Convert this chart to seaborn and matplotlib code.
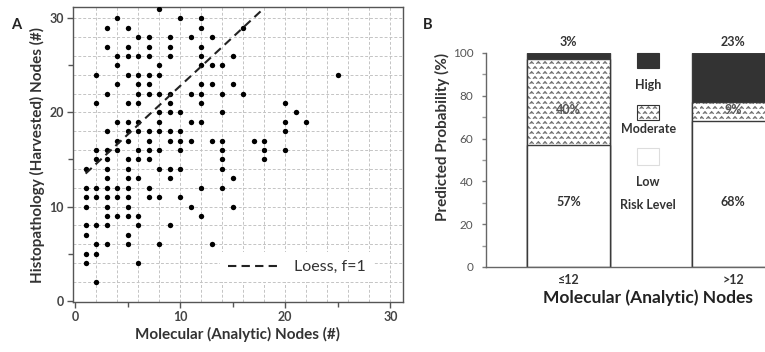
import warnings
import numpy as np
import pandas as pd
import matplotlib
matplotlib.use("Agg")
import matplotlib.pyplot as plt
import matplotlib.hatch as mhatch
from matplotlib.path import Path
from matplotlib.patches import Rectangle
import seaborn as sns

warnings.filterwarnings("ignore")

# panel A: one point per patient, analytic (x) vs harvested (y) node counts
analytic_nodes = [
    8,
    4, 10, 12,
    3, 5, 12, 16,
    6, 7, 9, 11, 13,
    3, 5, 7, 9, 12,
    4, 5, 6, 7, 9, 12, 15,
    4, 8, 12, 13, 14,
    2, 5, 6, 7, 8, 25,
    4, 6, 7, 12, 13, 15,
    3, 6, 7, 8, 9, 11, 12, 14, 16,
    2, 5, 6, 9, 12, 20,
    8, 9, 10, 14, 21,
    4, 5, 6, 8, 11, 12, 20, 22,
    3, 5, 6, 7, 8, 9, 10, 20,
    4, 5, 7, 9, 10, 11, 13, 14, 17, 18,
    2, 3, 4, 6, 7, 8, 10, 14, 18, 20,
    2, 3, 5, 6, 7, 14, 18,
    1, 3, 5, 8, 9, 10, 14,
    3, 5, 6, 9, 15,
    1, 2, 3, 4, 5, 7, 12, 14,
    1, 2, 3, 4, 5, 7, 8, 10,
    1, 3, 5, 11, 15,
    3, 4, 5, 6, 12,
    1, 2, 3, 6, 9,
    1, 5,
    2, 3, 5, 8, 13,
    1, 2,
    1, 6,
    2,
]
harvested_nodes = (
    [31] * 1 + [30] * 3 + [29] * 4 + [28] * 5 + [27] * 5 + [26] * 7
    + [25] * 5 + [24] * 6 + [23] * 6 + [22] * 9 + [21] * 6 + [20] * 5
    + [19] * 8 + [18] * 8 + [17] * 10 + [16] * 10 + [15] * 7 + [14] * 7
    + [13] * 5 + [12] * 8 + [11] * 8 + [10] * 5 + [9] * 5 + [8] * 5
    + [7] * 2 + [6] * 5 + [5] * 2 + [4] * 2 + [2] * 1
)

# loess fit (f=1)
loess_x = [1, 18]
loess_y = [13.5, 31.1]

# panel B: predicted probability (%) of each risk level
node_groups = ["\u226412", ">12"]
low_risk = [57, 68]
moderate_risk = [40, 9]
high_risk = [3, 23]


# small caret ("^") hatch like the original figure
class CaretHatch(mhatch.HatchPatternBase):
    def __init__(self, hatch, density):
        n = hatch.count("^")
        self.rows = 20 * n
        self.cols = 15 * n
        self.num_vertices = self.rows * self.cols * 3

    def set_vertices_and_codes(self, vertices, codes):
        w = 0.27 / self.cols
        h = 0.38 / self.rows
        k = 0
        for i in range(self.rows):
            cy = (i + 0.5) / self.rows
            for j in range(self.cols):
                cx = (j + 0.25 + 0.5 * (i % 2)) / self.cols
                vertices[k] = (cx - w, cy - h / 2)
                vertices[k + 1] = (cx, cy + h / 2)
                vertices[k + 2] = (cx + w, cy - h / 2)
                codes[k] = Path.MOVETO
                codes[k + 1] = Path.LINETO
                codes[k + 2] = Path.LINETO
                k += 3


mhatch._hatch_types.append(CaretHatch)

sns.set_style("ticks")
plt.rcParams["font.family"] = ["Lato", "DejaVu Sans"]
plt.rcParams["hatch.linewidth"] = 0.7

fig = plt.figure(figsize=(7.65, 3.52), dpi=100)
axA = fig.add_axes([0.0954, 0.142, 0.4314, 0.838])
axB = fig.add_axes([0.6353, 0.2415, 0.3647, 0.608])

# ---- panel A
for v in np.arange(2, 31, 2):
    axA.axvline(v, color="#c4c4c4", lw=0.7, ls=(0, (3, 2)), zorder=0)
    axA.axhline(v, color="#c4c4c4", lw=0.7, ls=(0, (3, 2)), zorder=0)

sns.scatterplot(x=analytic_nodes, y=harvested_nodes, ax=axA, color="black",
                s=15, linewidth=0, zorder=3)
sns.lineplot(x=loess_x, y=loess_y, ax=axA, color="#222222", lw=1.5,
             linestyle=(0, (4, 2.5)), label="Loess, f=1", zorder=4)

axA.set_xlim(-0.2, 31.2)
axA.set_ylim(-0.15, 31.2)
axA.set_xticks([0, 10, 20, 30])
axA.set_yticks([0, 10, 20, 30])
axA.set_xticks([5, 15, 25], minor=True)
axA.set_yticks([5, 15, 25], minor=True)
axA.tick_params(which="major", length=4.5, width=1, color="#555555",
                labelsize=9, labelcolor="#444444", pad=2)
axA.tick_params(which="minor", length=3.5, width=1, color="#555555")
for lbl in axA.get_xticklabels() + axA.get_yticklabels():
    lbl.set_fontweight("bold")
for s in axA.spines.values():
    s.set_color("#555555")
    s.set_linewidth(1)
axA.set_xlabel("Molecular (Analytic) Nodes (#)", fontsize=11,
               fontweight="bold", color="#333333", labelpad=3)
axA.set_ylabel("Histopathology (Harvested) Nodes (#)", fontsize=11,
               fontweight="bold", color="#333333", labelpad=3)
axA.legend(loc="lower right", bbox_to_anchor=(0.935, 0.04), frameon=True,
           facecolor="white", edgecolor="none", framealpha=1, fancybox=False,
           handlelength=3.3, fontsize=11.5, borderpad=0.5, handletextpad=0.8,
           labelcolor="#333333")

# ---- panel B (stacked from the back)
df = pd.DataFrame({"group": node_groups, "low": low_risk,
                   "moderate": moderate_risk, "high": high_risk})
df["low_mod"] = df["low"] + df["moderate"]
df["total"] = df["low_mod"] + df["high"]

edge = "#3a3a3a"
sns.barplot(data=df, x="group", y="total", ax=axB, color="#333333",
            saturation=1, width=0.5, edgecolor=edge, linewidth=1)
sns.barplot(data=df, x="group", y="low_mod", ax=axB, color="white",
            saturation=1, width=0.5, edgecolor="#707070", linewidth=0,
            hatch="^")
sns.barplot(data=df, x="group", y="low_mod", ax=axB, color="white",
            saturation=1, width=0.5, facecolor="none", edgecolor=edge,
            linewidth=1)
sns.barplot(data=df, x="group", y="low", ax=axB, color="white",
            saturation=1, width=0.5, edgecolor=edge, linewidth=1)

for i in range(len(df)):
    axB.text(i, 105.3, f"{df['high'][i]}%", ha="center", va="center",
             fontsize=9, fontweight="bold", color="#333333")
    axB.text(i, 73.4, f"{df['moderate'][i]}%", ha="center", va="center",
             fontsize=9, fontweight="bold", color="#555555")
    axB.text(i, 30.3, f"{df['low'][i]}%", ha="center", va="center",
             fontsize=9, fontweight="bold", color="#333333")

axB.set_xlim(-0.5, 1.194)
axB.set_ylim(0, 100)
axB.set_yticks(np.arange(0, 101, 20))
axB.set_yticks(np.arange(10, 100, 20), minor=True)
axB.tick_params(axis="y", which="major", length=3, width=1, color="#777777",
                labelsize=8.5, labelcolor="#555555", pad=6)
axB.tick_params(axis="y", which="minor", length=3, width=1, color="#999999")
axB.tick_params(axis="x", length=0, labelsize=9, labelcolor="#333333", pad=5)
for lbl in axB.get_xticklabels():
    lbl.set_fontweight("bold")
sns.despine(ax=axB)
axB.spines["left"].set_color("#666666")
axB.spines["bottom"].set_color("#666666")
axB.spines["left"].set_linewidth(1)
axB.spines["bottom"].set_linewidth(1)
axB.set_xlabel("Molecular (Analytic) Nodes", fontsize=12.5, fontweight="bold",
               color="#222222")
axB.xaxis.set_label_coords(0.58, -0.105)
axB.set_ylabel("Predicted Probability (%)", fontsize=11, fontweight="bold",
               color="#333333")
axB.yaxis.set_label_coords(-0.128, 0.607)

# legend drawn between the bars, text under each swatch
lx, lw_ = 0.541, 0.079
axB.add_patch(Rectangle((lx, 0.930), lw_, 0.070, transform=axB.transAxes,
                        facecolor="#333333", edgecolor="#333333", lw=0.8,
                        clip_on=False))
axB.add_patch(Rectangle((lx, 0.687), lw_, 0.070, transform=axB.transAxes,
                        facecolor="white", edgecolor="#707070", lw=0,
                        hatch="^", clip_on=False))
axB.add_patch(Rectangle((lx, 0.687), lw_, 0.070, transform=axB.transAxes,
                        facecolor="none", edgecolor="#333333", lw=0.8,
                        clip_on=False))
axB.add_patch(Rectangle((lx, 0.477), lw_, 0.079, transform=axB.transAxes,
                        facecolor="white", edgecolor="#dddddd", lw=0.8,
                        clip_on=False))
for label, yy in [("High", 0.850), ("Moderate", 0.645), ("Low", 0.397),
                  ("Risk Level", 0.290)]:
    axB.text(0.581, yy, label, transform=axB.transAxes, ha="center",
             va="center", fontsize=9, fontweight="bold", color="#333333")

fig.text(16 / 765, 1 - 25 / 352, "A", ha="center", va="center", fontsize=10.5,
         fontweight="bold", color="#222222")
fig.text(428 / 765, 1 - 25 / 352, "B", ha="center", va="center", fontsize=10.5,
         fontweight="bold", color="#222222")

fig.savefig("out.png", dpi=100)
